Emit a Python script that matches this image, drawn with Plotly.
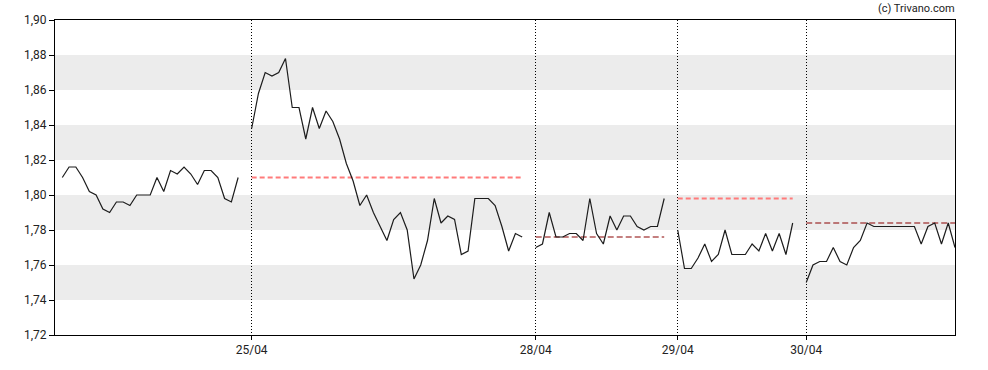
import plotly.graph_objects as go

# Prices per trading day (intraday samples)
day1 = [1.810, 1.816, 1.816, 1.810, 1.802, 1.800, 1.792, 1.790, 1.796, 1.796,
        1.794, 1.800, 1.800, 1.800, 1.810, 1.802, 1.814, 1.812, 1.816, 1.812,
        1.806, 1.814, 1.814, 1.810, 1.798, 1.796, 1.810]
day2 = [1.838, 1.858, 1.870, 1.868, 1.870, 1.878, 1.850, 1.850, 1.832, 1.850,
        1.838, 1.848, 1.842, 1.832, 1.818, 1.808, 1.794, 1.800, 1.790, 1.782,
        1.774, 1.786, 1.790, 1.780, 1.752, 1.760, 1.774, 1.798, 1.784, 1.788,
        1.786, 1.766, 1.768, 1.798, 1.798, 1.798, 1.794, 1.782, 1.768, 1.778,
        1.776]
day3 = [1.770, 1.772, 1.790, 1.776, 1.776, 1.778, 1.778, 1.774, 1.798, 1.778,
        1.772, 1.788, 1.780, 1.788, 1.788, 1.782, 1.780, 1.782, 1.782, 1.798]
day4 = [1.780, 1.758, 1.758, 1.764, 1.772, 1.762, 1.766, 1.780, 1.766, 1.766,
        1.766, 1.772, 1.768, 1.778, 1.768, 1.778, 1.766, 1.784]
day5 = [1.750, 1.760, 1.762, 1.762, 1.770, 1.762, 1.760, 1.770, 1.774, 1.784,
        1.782, 1.782, 1.782, 1.782, 1.782, 1.782, 1.782, 1.772, 1.782, 1.784,
        1.772, 1.784, 1.770]

days = [day1, day2, day3, day4, day5]
day_labels = [None, "25/04", "28/04", "29/04", "30/04"]
# reference (dashed) levels per day, and whether highlighted (light red) or not
ref_levels = [None, 1.810, 1.776, 1.798, 1.784]
ref_light = [None, True, False, True, False]

y_ticks = [1.72, 1.74, 1.76, 1.78, 1.80, 1.82, 1.84, 1.86, 1.88, 1.90]

# Build a continuous index with a one-slot gap between days
xs, ys = [], []
day_start, day_end = [], []
i = 0
for d in days:
    day_start.append(i)
    for v in d:
        xs.append(i)
        ys.append(v)
        i += 1
    day_end.append(i - 1)
    xs.append(i)
    ys.append(None)
    i += 1

fig = go.Figure()

# gray bands
for k in range(1, len(y_ticks) - 1, 2):
    fig.add_shape(type="rect", xref="paper", x0=0, x1=1, yref="y",
                  y0=y_ticks[k], y1=y_ticks[k + 1],
                  fillcolor="#ececec", line_width=0, layer="below")

# dashed reference lines
for k, lvl in enumerate(ref_levels):
    if lvl is None:
        continue
    light = ref_light[k]
    fig.add_trace(go.Scatter(
        x=[day_start[k], day_end[k]], y=[lvl, lvl], mode="lines",
        line=dict(color="#ff7b7b" if light else "#8a0000",
                  width=2 if light else 1.1, dash="5px,3px" if light else "6px,3px"),
        hoverinfo="skip", showlegend=False))

fig.add_trace(go.Scatter(x=xs, y=ys, mode="lines", connectgaps=False,
                         line=dict(color="#1c1c1c", width=1.2),
                         showlegend=False, cliponaxis=True))

tickvals = [day_start[k] for k in range(len(days)) if day_labels[k]]
ticktext = [lab for lab in day_labels if lab]

fig.update_layout(
    width=988, height=370,
    margin=dict(l=55, r=33, t=20, b=35, autoexpand=False),
    paper_bgcolor="white", plot_bgcolor="white",
    separators=",.",
    font=dict(family="Roboto, Arial, sans-serif", size=12, color="#222"),
    showlegend=False,
    xaxis=dict(range=[-1.08, 132], tickvals=tickvals, ticktext=ticktext,
               automargin=False,
               showgrid=True, gridcolor="#000", gridwidth=1, griddash="1px,2px",
               zeroline=False, showline=True, linecolor="#000", linewidth=1,
               mirror=True, ticks="outside", ticklen=4, tickcolor="#000",
               tickfont=dict(size=12, color="#222")),
    yaxis=dict(range=[1.72, 1.90], tickvals=y_ticks, tickformat=".2f",
               automargin=False,
               showgrid=False, zeroline=False, showline=True, linecolor="#000",
               linewidth=1, mirror=True, ticks="outside", ticklen=5,
               tickcolor="#000", tickfont=dict(size=12, color="#222")),
    annotations=[dict(text="(c) Trivano.com", xref="paper", yref="paper",
                      x=1.002, y=1.0, xanchor="right", yanchor="bottom", yshift=3,
                      showarrow=False, font=dict(size=11, color="#222"))],
)

fig.write_html("out.html", config={"displayModeBar": False},
               post_script="document.body.style.margin='0';document.body.style.overflow='hidden';")
